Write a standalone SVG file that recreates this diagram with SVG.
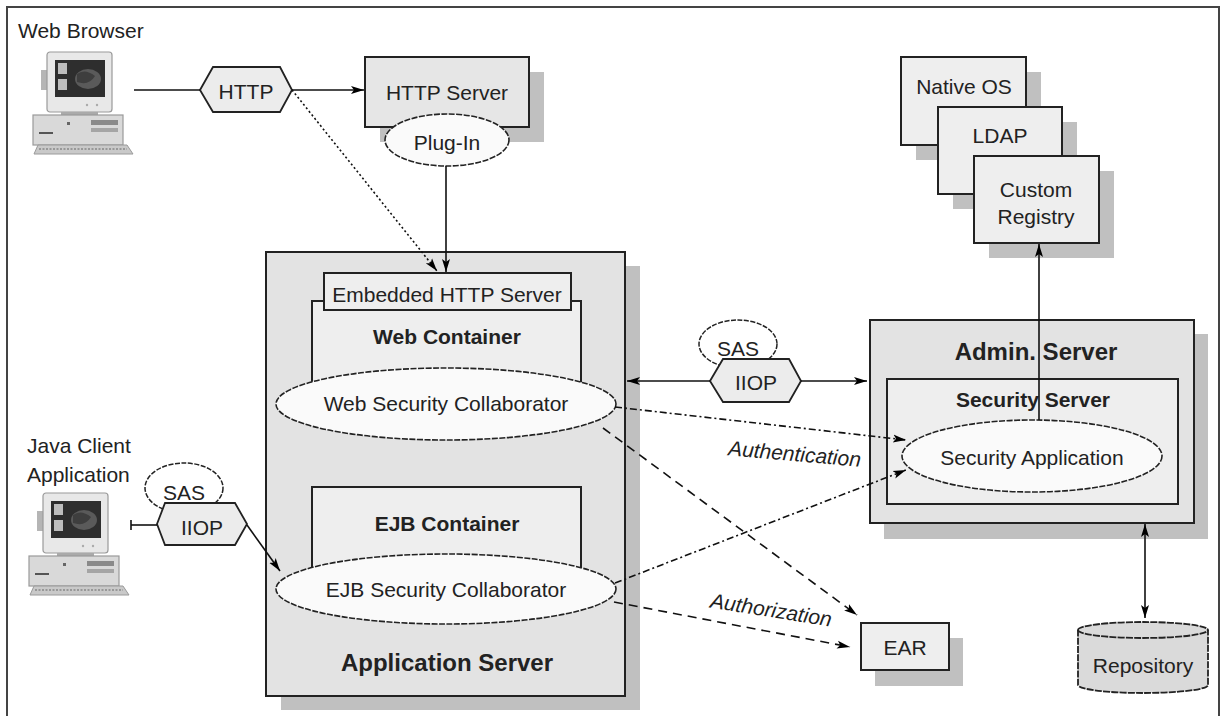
<svg xmlns="http://www.w3.org/2000/svg" width="1221" height="716" viewBox="0 0 1221 716">
  <style>
    .t { font-family: "Liberation Sans", Arial, sans-serif; font-size: 21px; fill: #222; }
    .c { text-anchor: middle; }
    .b { font-weight: bold; }
    .big { font-size: 24px; }
    .it { font-style: italic; }
    .box { stroke: #222; stroke-width: 2; }
    .shadow { fill: #c0c0c0; }
    .outer { fill: #e3e3e3; }
    .inner { fill: #eeeeee; }
    .oval { fill: #fafafa; stroke: #222; stroke-width: 1.6; stroke-dasharray: 6 1.5; }
    .hex { fill: #ececec; stroke: #222; stroke-width: 1.8; }
    .sas { fill: #fff; stroke: #222; stroke-width: 1.5; stroke-dasharray: 5 1.5; }
    .ln { fill: none; stroke: #111; stroke-width: 1.6; }
    .dot { stroke-dasharray: 2 2.5; }
    .dashdot { stroke-dasharray: 7 3 2 3; }
    .dash { stroke-dasharray: 9 6; }
  </style>
  <defs>
    <marker id="ah" markerWidth="14" markerHeight="10" refX="13" refY="4.5" orient="auto-start-reverse" markerUnits="userSpaceOnUse">
      <path d="M0,0.5 L13,4.5 L0,8.5 L3,4.5 z" fill="#000"/>
    </marker>
    <!-- desktop computer icon, origin at the monitor's top-left corner -->
    <g id="pc">
      <rect x="-6" y="18" width="7" height="20" fill="#b5b5b5"/>
      <rect x="0" y="0" width="65" height="60" rx="3" fill="#e8e8e8" stroke="#9a9a9a" stroke-width="1.2"/>
      <rect x="8" y="8" width="50" height="37" fill="#2e2e2e"/>
      <rect x="11" y="11" width="9" height="11" fill="#bdbdbd"/>
      <rect x="11" y="27" width="9" height="11" fill="#bdbdbd"/>
      <ellipse cx="41" cy="27" rx="13" ry="10" fill="#5a5a5a"/>
      <path d="M30,22 q8,-6 18,2 q-6,10 -18,6 z" fill="#3e3e3e"/>
      <circle cx="40" cy="53" r="1.2" fill="#aaa"/>
      <circle cx="50" cy="53" r="1.2" fill="#aaa"/>
      <rect x="14" y="60" width="37" height="4" fill="#aaa"/>
      <rect x="-14" y="63" width="90" height="30" fill="#d9d9d9" stroke="#9a9a9a" stroke-width="1.2"/>
      <rect x="44" y="68" width="27" height="5" fill="#8a8a8a"/>
      <rect x="44" y="76" width="27" height="4" fill="#a5a5a5"/>
      <rect x="-8" y="80" width="14" height="2" fill="#555"/>
      <rect x="20" y="70" width="3" height="3" fill="#666"/>
      <path d="M-9,93 L80,93 L86,102 L-13,102 z" fill="#c9c9c9" stroke="#9a9a9a" stroke-width="1"/>
      <path d="M-8,97 L80,97" stroke="#888" stroke-width="1.5" stroke-dasharray="2 1.5"/>
    </g>
  </defs>

  <rect x="0" y="0" width="1221" height="716" fill="#fff"/>
  <!-- page frame (open at the bottom) -->
  <path d="M7,716 L7,7 L1219,7 L1219,716" fill="none" stroke="#444" stroke-width="2"/>

  <g id="web-browser">
    <text class="t" x="18" y="38">Web Browser</text>
    <use href="#pc" x="47" y="52"/>
  </g>

  <g id="http-protocol">
    <polygon class="hex" points="200,90 213,67 280,67 292,90 280,112 213,112"/>
    <text class="t c" x="246" y="99">HTTP</text>
  </g>

  <g id="http-server">
    <rect class="shadow" x="380" y="72" width="164" height="70"/>
    <rect class="box" x="365" y="57" width="164" height="70" fill="#e6e6e6"/>
    <text class="t c" x="447" y="100">HTTP Server</text>
    <ellipse class="oval" cx="447" cy="140" rx="62" ry="26" fill="#f4f4f4"/>
    <text class="t c" x="447" y="150">Plug-In</text>
  </g>

  <g id="registries">
    <rect class="shadow" x="916" y="72" width="125" height="88"/>
    <rect class="box inner" x="901" y="57" width="125" height="88"/>
    <text class="t c" x="964" y="94">Native OS</text>
    <rect class="shadow" x="953" y="122" width="124" height="87"/>
    <rect class="box inner" x="938" y="107" width="124" height="87"/>
    <text class="t c" x="1000" y="143">LDAP</text>
    <rect class="shadow" x="989" y="171" width="125" height="87"/>
    <rect class="box inner" x="974" y="156" width="125" height="87"/>
    <text class="t c" x="1036" y="197">Custom</text>
    <text class="t c" x="1036" y="224">Registry</text>
  </g>

  <g id="application-server">
    <rect class="shadow" x="281" y="266" width="359" height="444"/>
    <rect class="box outer" x="266" y="252" width="359" height="444"/>
    <text class="t c b big" x="447" y="671">Application Server</text>
  </g>

  <g id="web-container">
    <rect class="box inner" x="312" y="301" width="269" height="103"/>
    <rect class="box inner" x="324" y="273" width="247" height="37" stroke-width="1.6"/>
    <text class="t c" x="447" y="302">Embedded HTTP Server</text>
    <text class="t c b" x="447" y="344">Web Container</text>
    <ellipse class="oval" cx="446" cy="404" rx="170" ry="36"/>
    <text class="t c" x="446" y="411">Web Security Collaborator</text>
  </g>

  <g id="ejb-container">
    <rect class="box inner" x="312" y="487" width="269" height="101"/>
    <text class="t c b" x="447" y="531">EJB Container</text>
    <ellipse class="oval" cx="446" cy="589" rx="170" ry="35"/>
    <text class="t c" x="446" y="597">EJB Security Collaborator</text>
  </g>

  <g id="iiop-admin">
    <ellipse class="sas" cx="738" cy="344" rx="39" ry="24"/>
    <text class="t c" x="738" y="356">SAS</text>
    <polygon class="hex" points="710,381 723,359 789,359 801,381 789,402 723,402"/>
    <text class="t c" x="756" y="390">IIOP</text>
  </g>

  <g id="admin-server">
    <rect class="shadow" x="884" y="334" width="324" height="205"/>
    <rect class="box outer" x="870" y="320" width="324" height="203"/>
    <text class="t c b big" x="1036" y="360">Admin. Server</text>
    <rect class="box inner" x="887" y="379" width="291" height="125"/>
    <text class="t c b" x="1033" y="407">Security Server</text>
    <ellipse class="oval" cx="1032" cy="456" rx="130" ry="36"/>
    <text class="t c" x="1032" y="465">Security Application</text>
  </g>

  <g id="java-client">
    <text class="t" x="27" y="453">Java Client</text>
    <text class="t" x="27" y="482">Application</text>
    <use href="#pc" x="43" y="493"/>
  </g>

  <g id="iiop-client">
    <ellipse class="sas" cx="184" cy="488" rx="39" ry="25"/>
    <text class="t c" x="184" y="500">SAS</text>
    <polygon class="hex" points="157,524 165,503 235,503 247,524 235,545 165,545"/>
    <text class="t c" x="202" y="535">IIOP</text>
  </g>

  <g id="ear">
    <rect class="shadow" x="875" y="638" width="88" height="48"/>
    <rect class="box inner" x="861" y="623" width="88" height="47"/>
    <text class="t c" x="905" y="655">EAR</text>
  </g>

  <g id="repository">
    <path d="M1078,630 A65,8 0 0 1 1208,630 L1208,685 A65,8 0 0 1 1078,685 Z" fill="#dadada" stroke="#222" stroke-width="1.8" stroke-dasharray="7 1.2"/>
    <path d="M1078,630 A65,8 0 0 0 1208,630" fill="none" stroke="#222" stroke-width="1.8" stroke-dasharray="7 1.2"/>
    <text class="t c" x="1143" y="673">Repository</text>
  </g>

  <g id="connectors">
    <line class="ln" x1="134" y1="90" x2="200" y2="90"/>
    <line class="ln" x1="292" y1="90" x2="364" y2="90" marker-end="url(#ah)"/>
    <line class="ln dot" x1="292" y1="90" x2="437" y2="271" marker-end="url(#ah)"/>
    <line class="ln" x1="446" y1="166" x2="446" y2="272" marker-end="url(#ah)"/>
    <line class="ln" x1="710" y1="381" x2="627" y2="381" marker-end="url(#ah)"/>
    <line class="ln" x1="801" y1="381" x2="867" y2="381" marker-end="url(#ah)"/>
    <line class="ln" x1="1039" y1="420" x2="1039" y2="244" marker-end="url(#ah)"/>
    <line class="ln" x1="1145" y1="524" x2="1145" y2="618" marker-start="url(#ah)" marker-end="url(#ah)"/>
    <line class="ln dashdot" x1="615" y1="407" x2="906" y2="440" marker-end="url(#ah)"/>
    <line class="ln dashdot" x1="615" y1="583" x2="906" y2="470" marker-end="url(#ah)"/>
    <line class="ln dash" x1="603" y1="428" x2="857" y2="615" marker-end="url(#ah)"/>
    <line class="ln dash" x1="614" y1="602" x2="850" y2="647" marker-end="url(#ah)"/>
    <line class="ln" x1="131" y1="525" x2="157" y2="525"/>
    <line class="ln" x1="131" y1="520" x2="131" y2="530"/>
    <line class="ln" x1="247" y1="525" x2="280" y2="571" marker-end="url(#ah)"/>
    <text class="t it c" x="794" y="461" transform="rotate(5 794 461)">Authentication</text>
    <text class="t it c" x="770" y="617" transform="rotate(9 770 617)">Authorization</text>
  </g>
</svg>
